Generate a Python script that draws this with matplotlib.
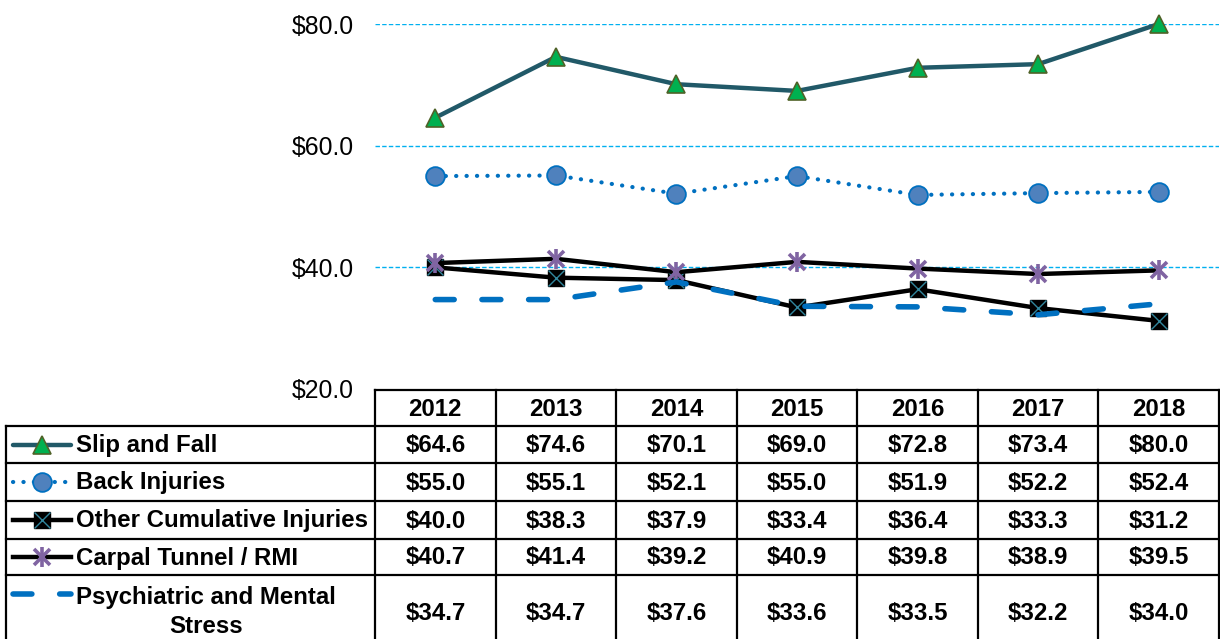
import matplotlib
matplotlib.use('Agg')
import matplotlib.pyplot as plt
from matplotlib.ticker import FuncFormatter

plt.rcParams['font.family'] = ['Liberation Sans', 'DejaVu Sans']

# ---- data ----
years = ['2012', '2013', '2014', '2015', '2016', '2017', '2018']
series_names = ['Slip and Fall', 'Back Injuries', 'Other Cumulative Injuries',
                'Carpal Tunnel / RMI', 'Psychiatric and Mental\nStress']
slip_and_fall = [64.6, 74.6, 70.1, 69.0, 72.8, 73.4, 80.0]
back_injuries = [55.0, 55.1, 52.1, 55.0, 51.9, 52.2, 52.4]
other_cumulative = [40.0, 38.3, 37.9, 33.4, 36.4, 33.3, 31.2]
carpal_tunnel = [40.7, 41.4, 39.2, 40.9, 39.8, 38.9, 39.5]
psychiatric = [34.7, 34.7, 37.6, 33.6, 33.5, 32.2, 34.0]
y_ticks = [20, 40, 60, 80]

series_values = [slip_and_fall, back_injuries, other_cumulative, carpal_tunnel, psychiatric]

# ---- styles ----
TEAL = '#215968'
BLUE = '#0070C0'
GRID = '#00B0F0'
PURPLE = '#8064A2'
XTEAL = '#31859C'

line_styles = [
    dict(color=TEAL, lw=3.2, solid_capstyle='round'),
    dict(color=BLUE, lw=3.0, linestyle=(0, (0.05, 2.45)), dash_capstyle='round'),
    dict(color='black', lw=3.2),
    dict(color='black', lw=3.2),
    dict(color=BLUE, lw=4.0, linestyle=(0, (3.4, 5.0)), dash_capstyle='round'),
]


def draw_markers(axis, xs, ys, idx, scale=1.0, z=5):
    if idx == 0:
        axis.plot(xs, ys, ls='none', marker='^', ms=13.5 * scale, mfc='#00B050',
                  mec='#4F6228', mew=1.2, zorder=z, clip_on=False)
    elif idx == 1:
        axis.plot(xs, ys, ls='none', marker='o', ms=13.5 * scale, mfc='#4F81BD',
                  mec=BLUE, mew=1.3, zorder=z, clip_on=False)
    elif idx == 2:
        axis.plot(xs, ys, ls='none', marker='s', ms=12 * scale, mfc='black',
                  mec='black', mew=1, zorder=z, clip_on=False)
        axis.plot(xs, ys, ls='none', marker='x', ms=11.5 * scale, mec=XTEAL,
                  mew=1.0, zorder=z + 0.1, clip_on=False)
    elif idx == 3:
        axis.plot(xs, ys, ls='none', marker='x', ms=12 * scale, mec=PURPLE,
                  mew=2.6, zorder=z, clip_on=False)
        axis.plot(xs, ys, ls='none', marker='|', ms=14.5 * scale, mec=PURPLE,
                  mew=2.6, zorder=z, clip_on=False)


W, H = 1220, 639
fig = plt.figure(figsize=(W / 100, H / 100), dpi=100)
fig.patch.set_facecolor('white')

ax = fig.add_axes([375 / W, (H - 389) / H, (1219 - 375) / W, (389 - 24) / H])
ax.set_xlim(-0.5, len(years) - 0.5)
ax.set_ylim(y_ticks[0], y_ticks[-1])
ax.set_yticks(y_ticks)
ax.yaxis.set_major_formatter(FuncFormatter(lambda v, p: '${:.1f}'.format(v)))
ax.tick_params(axis='y', length=0, pad=15.5, labelsize=17.8)
ax.set_xticks([])
for s in ax.spines.values():
    s.set_visible(False)
for t in y_ticks[1:]:
    ax.axhline(t, color=GRID, lw=1.0, linestyle=(0, (3.2, 1.6)), zorder=1)

xs = list(range(len(years)))
for i, vals in enumerate(series_values):
    z = 2 + i
    ax.plot(xs, vals, zorder=z, clip_on=False, **line_styles[i])
    draw_markers(ax, xs, vals, i, z=z + 0.5)

# ---- data table (pixel overlay) ----
ov = fig.add_axes([0, 0, 1, 1], zorder=10)
ov.set_xlim(0, W)
ov.set_ylim(H, 0)
ov.axis('off')
ov.patch.set_alpha(0)

col_edges = [ax.transData.transform((x - 0.5, 0))[0] for x in range(len(years) + 1)]
left_edge = 6
header_top, header_bot = 390, 426
row_edges = [426, 463, 501, 539, 575, 650]

blw = 1.6
ov.plot([col_edges[0], col_edges[-1]], [header_top, header_top], color='black', lw=blw, clip_on=False)
for y in row_edges[:-1]:
    ov.plot([left_edge, col_edges[-1]], [y, y], color='black', lw=blw, clip_on=False)
ov.plot([left_edge, left_edge], [row_edges[0], row_edges[-1]], color='black', lw=blw, clip_on=False)
for x in col_edges:
    ov.plot([x, x], [header_top, row_edges[-1]], color='black', lw=blw, clip_on=False)

fs = 17.3
for j, yr in enumerate(years):
    cx = (col_edges[j] + col_edges[j + 1]) / 2
    ov.text(cx, (header_top + header_bot) / 2 + 1, yr, ha='center', va='center',
            fontsize=fs, fontweight='bold')

for i, (name, vals) in enumerate(zip(series_names, series_values)):
    cy = (row_edges[i] + row_edges[i + 1]) / 2
    for j, v in enumerate(vals):
        cx = (col_edges[j] + col_edges[j + 1]) / 2
        ov.text(cx, cy + 1, '${:.1f}'.format(v), ha='center', va='center',
                fontsize=fs, fontweight='bold')
    ty = cy if i < 4 else 611
    ov.text(76, ty + 1, name, ha='left', va='center', fontsize=fs, fontweight='bold',
            multialignment='center', linespacing=1.36)
    ky = cy if i < 4 else 594
    ov.plot([13, 71], [ky, ky], clip_on=False, **line_styles[i])
    draw_markers(ov, [42], [ky], i, scale=1.0, z=12)

fig.savefig('out.png', dpi=100, facecolor='white')
